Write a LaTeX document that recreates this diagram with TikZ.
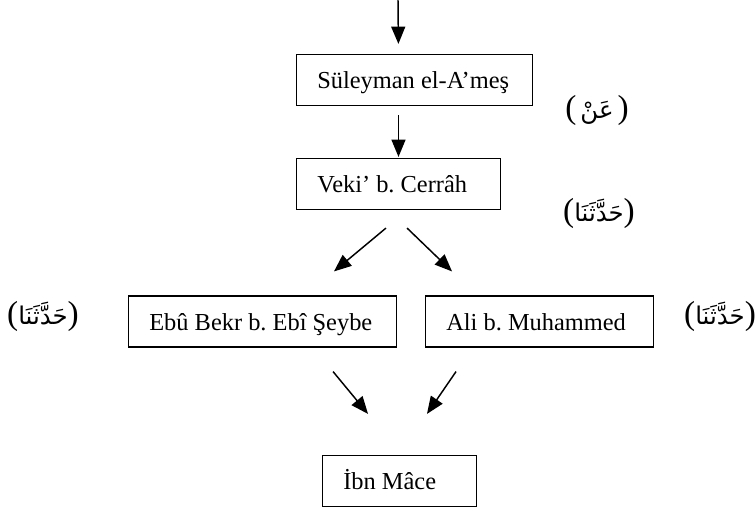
\documentclass[tikz,border=0pt]{standalone}
\usepackage{fontspec}
\setmainfont{Liberation Serif}
\newfontfamily\arabicfont[Script=Arabic]{DejaVu Sans}
\TeXXeTstate=1
\usetikzlibrary{arrows.meta}
\newcommand{\paren}[1]{{\fontsize{25}{28}\selectfont #1}}

\begin{document}
\begin{tikzpicture}[x=0.75pt, y=-0.75pt,
    every node/.style={font=\fontsize{18.3}{22}\selectfont\frenchspacing},
    isnad/.style={draw, line width=1.1pt, minimum height=38pt, inner xsep=15.75pt, text height=14pt, text depth=1pt, align=flush left, text width=#1},
    arr/.style={-{Triangle[length=13pt, width=10.5pt]}, line width=1.1pt},
    sigha/.style={inner sep=0pt}]
  \useasboundingbox (0,0) rectangle (756,516);
  % Narrators
  \node[isnad=145.75pt] (sul) at (414.5,80) {Süleyman el-A’meş};
  \node[isnad=121.75pt] (veki) at (398.5,184) {Veki’ b. Cerrâh};
  \node[isnad=169.75pt] (ebu) at (262.5,321.5) {Ebû Bekr b. Ebî Şeybe};
  \node[isnad=139.75pt] (ali) at (539.5,321.5) {Ali b. Muhammed};
  \node[isnad=84.25pt] (ibn) at (399.5,481) {İbn Mâce};
  % Transmission terms
  \node[sigha] (an) at (597,110) {\paren{(}\,{\arabicfont\beginR عَنْ\endR}\,\paren{)}};
  \node[sigha] (hdVeki) at (599,213) {\paren{(}{\arabicfont\beginR حَدَّثَنَا\endR}\paren{)}};
  \node[sigha] (hdEbu) at (43,316) {\paren{(}{\arabicfont\beginR حَدَّثَنَا\endR}\paren{)}};
  \node[sigha] (hdAli) at (720,316) {\paren{(}{\arabicfont\beginR حَدَّثَنَا\endR}\paren{)}};
  % Arrows
  \coordinate (src) at (398,0);
  \draw[arr, shorten >=7.5pt] (src) -- (veki.north |- sul.north);
  \draw[arr, shorten <=6.75pt, shorten >=0.75pt] (veki.north |- sul.south) -- (veki.north);
  \draw[arr] ([xshift=-9.4pt, yshift=-13.5pt]veki.south) -- ([xshift=53.6pt, yshift=18pt]ebu.north);
  \draw[arr] ([xshift=6.4pt, yshift=-13.5pt]veki.south) -- ([xshift=-65.6pt, yshift=18pt]ali.north);
  \draw[arr] ([xshift=52.9pt, yshift=-18pt]ebu.south) -- ([xshift=-23.6pt, yshift=30.75pt]ibn.north);
  \draw[arr] ([xshift=-62.6pt, yshift=-18pt]ali.south) -- ([xshift=20.6pt, yshift=30.75pt]ibn.north);
\end{tikzpicture}
\end{document}
